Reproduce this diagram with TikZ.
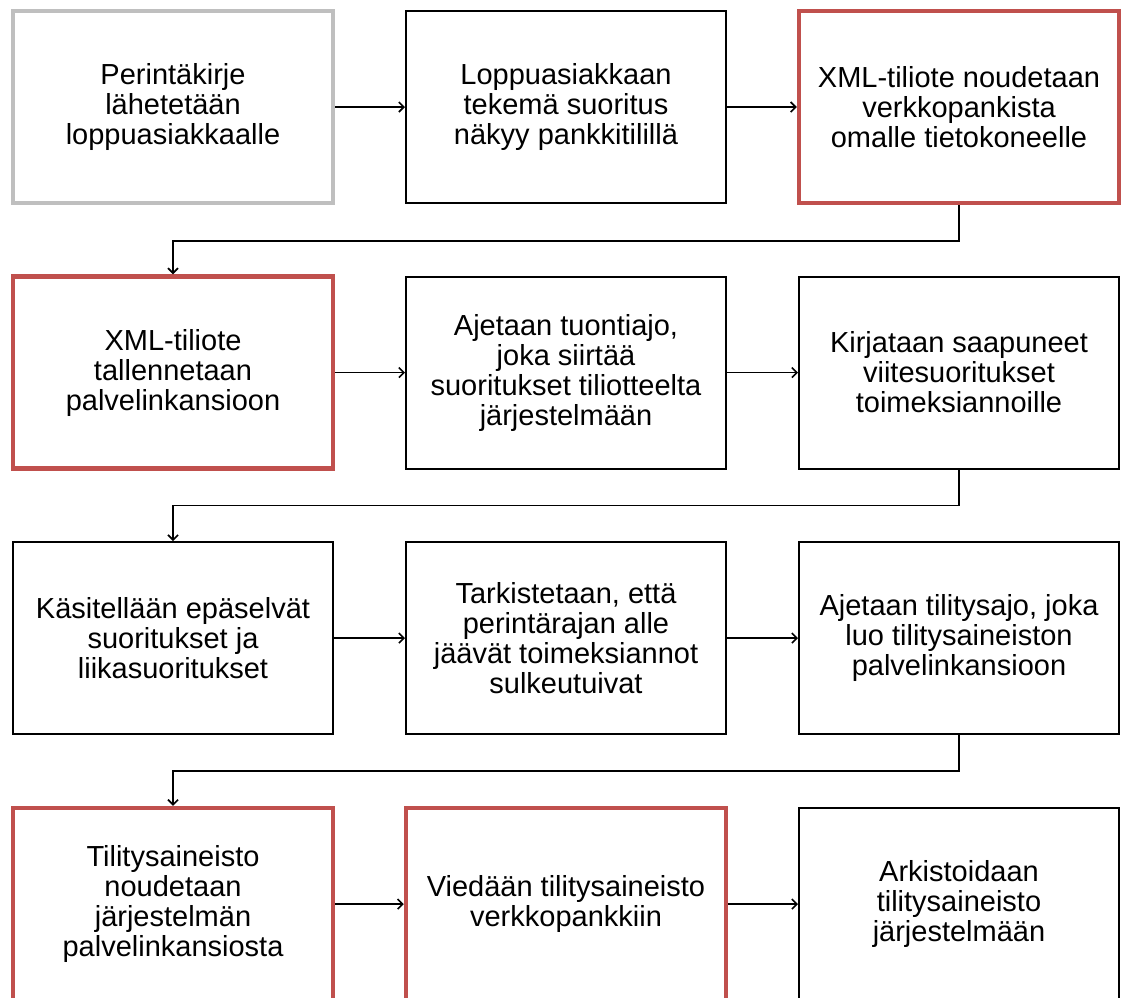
\documentclass[tikz,border=0pt]{standalone}
\usepackage{fontspec}
\setmainfont{Liberation Sans}
\usetikzlibrary{arrows.meta}
\definecolor{stepred}{RGB}{192,80,77}
\definecolor{stepgray}{RGB}{191,191,191}

\begin{document}
\begin{tikzpicture}[
    x=1pt, y=-1pt,
    stepbox/.style={draw, line width=2pt, minimum width=320pt, minimum height=192pt, align=center, font=\fontsize{29}{30}\selectfont},
    manual/.style={stepbox, draw=stepred, line width=4.5pt},
    first/.style={stepbox, draw=stepgray, line width=4.5pt},
    arr/.style={-{Straight Barb[length=5pt, width=10pt]}, line width=1.6pt}
  ]

  \useasboundingbox (0,0) rectangle (1122,997);

  % row 1
  \node[first] (s11) at (173,107) {Perintäkirje\\lähetetään\\loppuasiakkaalle};
  \node[stepbox] (s12) at (566,107) {Loppuasiakkaan\\tekemä suoritus\\näkyy pankkitilillä};
  \node[manual] (s13) at (959,107) {XML-tiliote noudetaan\\verkkopankista\\omalle tietokoneelle};

  % row 2
  \node[manual] (s21) at (173,372.5) {XML-tiliote\\tallennetaan\\palvelinkansioon};
  \node[stepbox] (s22) at (566,372.5) {Ajetaan tuontiajo,\\joka siirtää\\suoritukset tiliotteelta\\järjestelmään};
  \node[stepbox] (s23) at (959,372.5) {Kirjataan saapuneet\\viitesuoritukset\\toimeksiannoille};

  % row 3
  \node[stepbox] (s31) at (173,638) {Käsitellään epäselvät\\suoritukset ja\\liikasuoritukset};
  \node[stepbox] (s32) at (566,638) {Tarkistetaan, että\\perintärajan alle\\jäävät toimeksiannot\\sulkeutuivat};
  \node[stepbox] (s33) at (959,638) {Ajetaan tilitysajo, joka\\luo tilitysaineiston\\palvelinkansioon};

  % row 4
  \node[manual] (s41) at (173,904) {Tilitysaineisto\\noudetaan\\järjestelmän\\palvelinkansiosta};
  \node[manual] (s42) at (566,904) {Viedään tilitysaineisto\\verkkopankkiin};
  \node[stepbox] (s43) at (959,904) {Arkistoidaan\\tilitysaineisto\\järjestelmään};

  \foreach \r in {1,2,3,4} {
      \draw[arr] (s\r1) -- (s\r2);
      \draw[arr] (s\r2) -- (s\r3);
    }

  \foreach \r [evaluate=\r as \n using int(\r+1)] in {1,2,3} {
      \draw[arr] (s\r3.south) -- ++(0,36) -| (s\n1.north);
    }

\end{tikzpicture}
\end{document}
